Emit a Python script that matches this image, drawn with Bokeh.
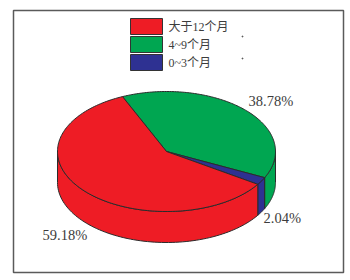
import numpy as np
from bokeh.plotting import figure
from bokeh.models import Range1d
from bokeh.core.properties import value
from bokeh.embed import file_html
from bokeh.resources import INLINE

categories = ["大于12个月", "4~9个月", "0~3个月"]
values = [59.18, 38.78, 2.04]
labels = ["59.18%", "38.78%", "2.04%"]
colors = ["#EE1C25", "#00A651", "#2E3192"]

CX, CY, RX, RY, DEPTH = 166, 151, 109, 60, 31
START = 113.8
OUT = "#2b2b2b"
FONT = value("Liberation Serif, Noto Sans CJK SC")

p = figure(width=350, height=280, x_range=Range1d(0, 350), y_range=Range1d(280, 0),
           output_backend="svg", toolbar_location=None, min_border=0,
           x_axis_location=None, y_axis_location=None)
p.grid.visible = False
p.outline_line_color = None
p.background_fill_color = "white"

p.quad(left=[13], right=[343], top=[10], bottom=[272], fill_color="white",
       line_color="#5a5a5a", line_width=1.5)

def arc(a0, a1, n=80):
    t = np.radians(np.linspace(a0, a1, n))
    return CX + RX*np.cos(t), CY - RY*np.sin(t)

# slices run clockwise from START: green, blue, red
order = [1, 2, 0]
angles = {}
a = START
for i in order:
    sweep = values[i] / sum(values) * 360
    angles[i] = (a, a - sweep)
    a -= sweep

# side wall: only the front half of the rim (angles 0 to -180) is visible
for i in order:
    a0, a1 = angles[i]
    lo0, lo1 = min(a0, 0), max(a1, -180)
    x, y = arc(lo0, lo1)
    p.patch(np.r_[x, x[::-1]], np.r_[y, y[::-1] + DEPTH],
            fill_color=colors[i], line_color=OUT, line_width=1)

# top faces
for i in order:
    a0, a1 = angles[i]
    x, y = arc(a0, a1, 160)
    p.patch(np.r_[CX, x], np.r_[CY, y], fill_color=colors[i], line_color=OUT, line_width=1)

# percentage labels
lx = [42, 248, 263]
ly = [234, 100, 217]
p.text(x=lx, y=ly, text=labels, text_font=FONT, text_font_size="14.5px", text_color="#3c3c3c",
       text_baseline="middle", text_align="left")

# legend
top = [18, 36, 54]
p.quad(left=[130]*3, right=[162]*3, top=top, bottom=[t+16 for t in top],
       fill_color=colors, line_color="#333333", line_width=1)
p.text(x=[168]*3, y=[t+8 for t in top], text=categories, text_font=FONT, text_font_size="12px",
       text_color="#3c3c3c", text_baseline="middle", text_align="left")

# two stray specks in the scan
p.scatter(x=[242, 242], y=[36, 58], size=1, color="#555555")

open("out.html", "w").write(file_html(p, INLINE))
